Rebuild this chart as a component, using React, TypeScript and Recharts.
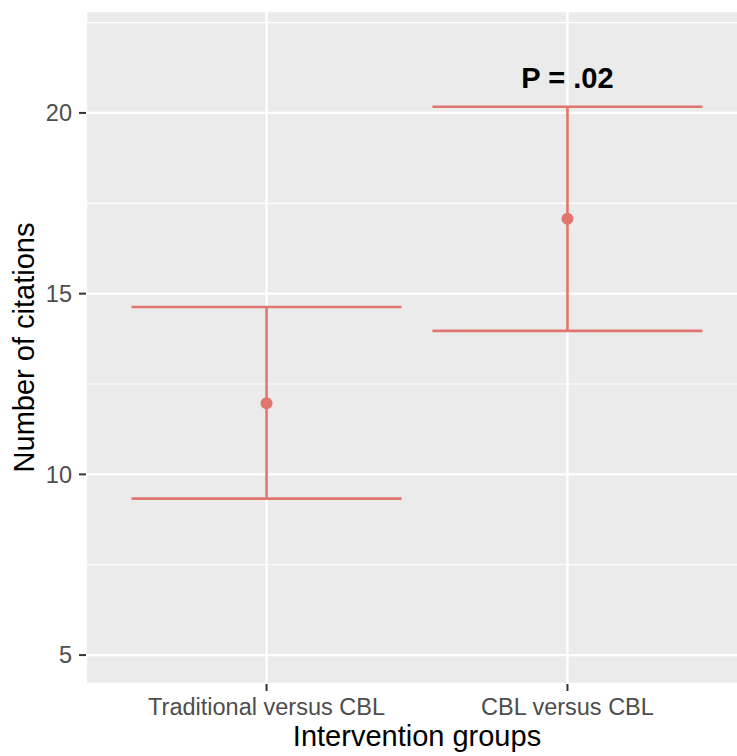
import React from 'react';
import { ComposedChart, Scatter, ErrorBar, XAxis, YAxis, CartesianGrid, ReferenceDot } from 'recharts';

const groups = ['Traditional versus CBL', 'CBL versus CBL'];
const groupPos = [1, 2];
const means = [11.97, 17.07];
const lower = [9.33, 13.97];
const upper = [14.63, 20.17];

const majorTicks = [5, 10, 15, 20];
const minorTicks = [7.5, 12.5, 17.5, 22.5];
const yDomain: [number, number] = [4.2, 22.82];
const xDomain: [number, number] = [0.4, 2.6];

const pLabel = 'P = .02';
const pLabelY = 20.69;

const red = '#E0766E';
const font = '"Liberation Sans", Arial, Helvetica, sans-serif';

const data = groupPos.map((x, i) => ({
  x,
  mean: means[i],
  err: [means[i] - lower[i], upper[i] - means[i]],
}));

export default function App() {
  return (
    <div style={{ position: 'absolute', left: 0, top: 0, width: 737, height: 756, overflow: 'hidden', background: '#fff' }}>
      <ComposedChart width={760} height={756} data={data} margin={{ top: 11, right: 12, bottom: 0, left: 0 }}>
        <CartesianGrid fill="#EBEBEB" stroke="#FFFFFF" strokeWidth={2.3} />
        <CartesianGrid yAxisId="minor" vertical={false} stroke="#FFFFFF" strokeWidth={1.2} />
        <XAxis
          type="number"
          dataKey="x"
          domain={xDomain}
          ticks={groupPos}
          tickFormatter={(v: number) => groups[groupPos.indexOf(v)] ?? ''}
          axisLine={false}
          tickSize={7}
          tickMargin={7}
          tickLine={{ stroke: '#333333', strokeWidth: 2 }}
          tick={{ fill: '#4D4D4D', fontSize: 23.5, fontFamily: font }}
          height={72}
          interval={0}
          label={{
            content: ({ viewBox }: any) => (
              <text x={viewBox.x + viewBox.width / 2} y={746} textAnchor="middle" fontSize={29} fontFamily={font} fill="#000">
                Intervention groups
              </text>
            ),
          }}
        />
        <YAxis
          type="number"
          domain={yDomain}
          ticks={majorTicks}
          allowDataOverflow
          axisLine={false}
          tickSize={7}
          tickMargin={7}
          tickLine={{ stroke: '#333333', strokeWidth: 2 }}
          tick={{ fill: '#4D4D4D', fontSize: 23.5, fontFamily: font }}
          width={86}
          label={{
            content: ({ viewBox }: any) => {
              const cx = 34;
              const cy = viewBox.y + viewBox.height / 2;
              return (
                <text x={cx} y={cy} transform={`rotate(-90, ${cx}, ${cy})`} textAnchor="middle" fontSize={29} fontFamily={font} fill="#000">
                  Number of citations
                </text>
              );
            },
          }}
        />
        <YAxis yAxisId="minor" type="number" domain={yDomain} ticks={minorTicks} allowDataOverflow hide />
        <Scatter dataKey="mean" fill={red} isAnimationActive={false}
          shape={(p: any) => <circle cx={p.cx} cy={p.cy} r={6} fill={red} />}>
          <ErrorBar dataKey="err" direction="y" width={135} stroke={red} strokeWidth={2.6} isAnimationActive={false} />
        </Scatter>
        <ReferenceDot
          x={groupPos[1]}
          y={pLabelY}
          r={0}
          fill="none"
          stroke="none"
          label={{
            content: ({ viewBox }: any) => (
              <text x={viewBox.x} y={viewBox.y} textAnchor="middle" fontSize={29} fontWeight="bold" fontFamily={font} fill="#000">
                {pLabel}
              </text>
            ),
          }}
        />
      </ComposedChart>
    </div>
  );
}
